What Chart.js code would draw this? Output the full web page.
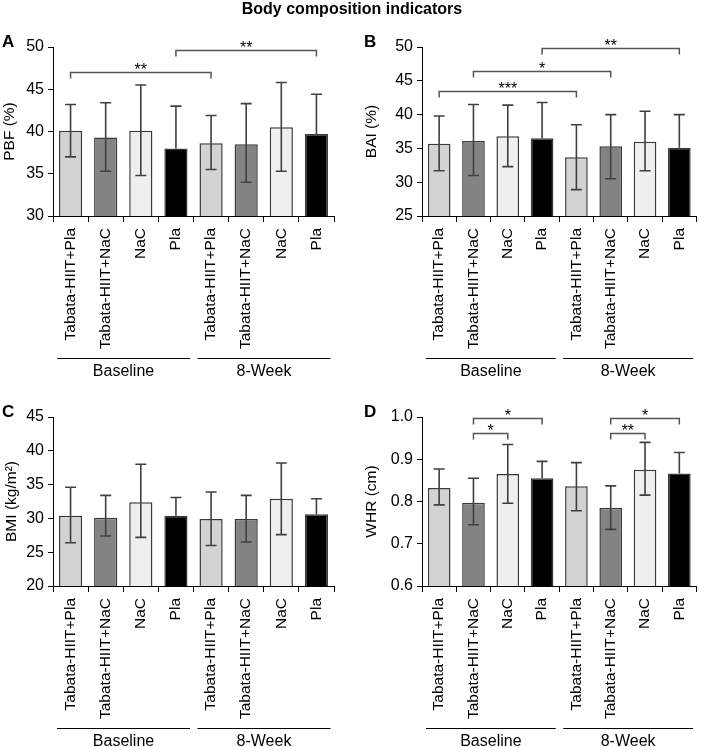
<!DOCTYPE html>
<html>
<head>
<meta charset="utf-8">
<script src="https://cdn.jsdelivr.net/npm/chart.js@4.4.1/dist/chart.umd.min.js"></script>
<style>
  html, body { margin:0; padding:0; background:#fff; }
  #wrap { position:relative; width:704px; height:747px; overflow:hidden; }
  canvas { position:absolute; }
  #title { position:absolute; left:0; top:0; width:704px; text-align:center;
           font:bold 16px "Liberation Sans", Arial, sans-serif; line-height:17px; color:#000; }
</style>
</head>
<body>
<div id="wrap">
  <canvas id="cA" width="352" height="377" style="left:0;top:0"></canvas>
  <canvas id="cB" width="352" height="377" style="left:352px;top:0"></canvas>
  <canvas id="cC" width="352" height="377" style="left:0;top:370px"></canvas>
  <canvas id="cD" width="352" height="377" style="left:352px;top:370px"></canvas>
  <div id="title">Body composition indicators</div>
</div>
<script>
// ---- data ----
const categories = ['Tabata-HIIT+Pla','Tabata-HIIT+NaC','NaC','Pla','Tabata-HIIT+Pla','Tabata-HIIT+NaC','NaC','Pla'];
const groupNames = ['Baseline','8-Week'];
const groupFirst = [0, 4];
const groupLast  = [3, 7];

const pbfMean  = [40.1, 39.3, 40.1, 38.0, 38.6, 38.5, 40.5, 39.7];
const pbfUpper = [43.2, 43.4, 45.5, 43.0, 41.9, 43.3, 45.8, 44.4];
const pbfLower = [37.0, 35.3, 34.8, null, 35.5, 34.0, 35.3, null];
const pbfSigFrom  = [0, 3];
const pbfSigTo    = [4, 7];
const pbfSigLevel = [47.0, 49.6];
const pbfSigText  = ['**', '**'];

const baiMean  = [35.7, 36.1, 36.8, 36.5, 33.7, 35.3, 36.0, 35.1];
const baiUpper = [39.8, 41.5, 41.4, 41.8, 38.5, 40.0, 40.5, 40.0];
const baiLower = [31.7, 31.0, 32.3, null, 28.9, 30.5, 31.7, null];
const baiSigFrom  = [0, 1, 3];
const baiSigTo    = [4, 5, 7];
const baiSigLevel = [43.5, 46.4, 49.85];
const baiSigText  = ['***', '*', '**'];

const bmiMean  = [30.4, 30.1, 32.4, 30.4, 29.9, 29.9, 32.9, 30.6];
const bmiUpper = [34.6, 33.4, 38.0, 33.1, 33.9, 33.4, 38.2, 32.9];
const bmiLower = [26.4, 27.4, 27.2, null, 26.0, 26.5, 27.6, null];

const whrMean  = [0.832, 0.797, 0.865, 0.855, 0.836, 0.785, 0.875, 0.866];
const whrUpper = [0.877, 0.855, 0.935, 0.895, 0.892, 0.837, 0.940, 0.916];
const whrLower = [0.792, 0.745, 0.796, null, 0.778, 0.734, 0.815, null];
const whrSigFrom  = [1, 1, 5, 5];
const whrSigTo    = [3, 2, 7, 6];
const whrSigLevel = [0.997, 0.963, 0.997, 0.963];
const whrSigText  = ['*', '*', '*', '**'];

// ---- styles ----
const barColors = ['#d3d3d3','#838383','#efefef','#000000','#d3d3d3','#838383','#efefef','#000000'];
const FONT = '"Liberation Sans", Arial, sans-serif';

function makePlugin(p) {
  return {
    id: 'annot_' + p.letter,
    afterDatasetsDraw(chart) {
      const ctx = chart.ctx, xs = chart.scales.x, ys = chart.scales.y;
      ctx.save();
      // error bars
      ctx.strokeStyle = '#404040';
      ctx.lineWidth = 1.6;
      p.mean.forEach((m, i) => {
        const px = xs.getPixelForValue(i);
        const yu = ys.getPixelForValue(p.upper[i]);
        const hasLow = p.lower[i] != null;
        const yl = ys.getPixelForValue(hasLow ? p.lower[i] : m);
        ctx.beginPath();
        ctx.moveTo(px, yu); ctx.lineTo(px, yl);
        ctx.moveTo(px - 5.5, yu); ctx.lineTo(px + 5.5, yu);
        if (hasLow) { ctx.moveTo(px - 5.5, yl); ctx.lineTo(px + 5.5, yl); }
        ctx.stroke();
      });
      // significance brackets
      ctx.strokeStyle = '#555';
      ctx.lineWidth = 1.5;
      ctx.fillStyle = '#000';
      ctx.font = '16px ' + FONT;
      ctx.textAlign = 'center';
      ctx.textBaseline = 'alphabetic';
      (p.sigFrom || []).forEach((f, k) => {
        const x1 = xs.getPixelForValue(f), x2 = xs.getPixelForValue(p.sigTo[k]);
        const yy = Math.round(ys.getPixelForValue(p.sigLevel[k])) + 0.5;
        ctx.beginPath();
        ctx.moveTo(x1, yy + 6); ctx.lineTo(x1, yy); ctx.lineTo(x2, yy); ctx.lineTo(x2, yy + 6);
        ctx.stroke();
        ctx.fillText(p.sigText[k], (x1 + x2) / 2, yy + 2.5);
      });
      ctx.restore();
    },
    afterDraw(chart) {
      const ctx = chart.ctx, xs = chart.scales.x, ca = chart.chartArea;
      const half = (xs.getPixelForValue(1) - xs.getPixelForValue(0)) / 2;
      ctx.save();
      // group lines and labels
      ctx.strokeStyle = '#000';
      ctx.lineWidth = 1.2;
      ctx.fillStyle = '#000';
      ctx.font = '16px ' + FONT;
      ctx.textAlign = 'center';
      ctx.textBaseline = 'middle';
      groupNames.forEach((g, k) => {
        const a = xs.getPixelForValue(groupFirst[k]) - half + 4;
        const b = xs.getPixelForValue(groupLast[k]) + half - 3.5;
        const ly = ca.bottom + 142.5;
        ctx.beginPath(); ctx.moveTo(a, ly); ctx.lineTo(b, ly); ctx.stroke();
        ctx.fillText(g, (a + b) / 2, ca.bottom + 156);
      });
      // panel letter
      ctx.font = 'bold 17px ' + FONT;
      ctx.textAlign = 'left';
      ctx.textBaseline = 'alphabetic';
      ctx.fillText(p.letter, p.letterX, 47);
      // y axis title
      ctx.font = '15.5px ' + FONT;
      ctx.translate(p.titleX, (ca.top + ca.bottom) / 2);
      ctx.rotate(-Math.PI / 2);
      ctx.textAlign = 'center';
      ctx.textBaseline = 'middle';
      ctx.fillText(p.yTitle, 0, 0);
      ctx.restore();
    }
  };
}

function makeChart(id, p) {
  new Chart(document.getElementById(id), {
    type: 'bar',
    data: {
      labels: categories,
      datasets: [{
        data: p.mean,
        backgroundColor: barColors,
        borderColor: '#3a3a3a',
        borderWidth: 1.5,
        barPercentage: 0.66,
        categoryPercentage: 1
      }]
    },
    options: {
      responsive: false,
      animation: false,
      devicePixelRatio: 1,
      layout: { padding: { left: 0, top: 47, right: p.padRight, bottom: 0 } },
      plugins: { legend: { display: false }, tooltip: { enabled: false } },
      scales: {
        x: {
          grid: { offset: true, drawOnChartArea: false, drawTicks: true, tickLength: 6, color: '#000', lineWidth: 1 },
          border: { display: true, color: '#000', width: 1 },
          ticks: { autoSkip: false, minRotation: 90, maxRotation: 90, padding: 6, color: '#000',
                   font: { family: FONT, size: 15.5 } },
          afterFit(s) { s.height = 161; }
        },
        y: {
          min: p.min, max: p.max,
          grid: { drawOnChartArea: false, drawTicks: true, tickLength: 5, color: '#000', lineWidth: 1 },
          border: { display: true, color: '#000', width: 1 },
          ticks: { stepSize: p.step, padding: 4, color: '#000', font: { family: FONT, size: 16 },
                   callback: v => p.fmt(v) },
          afterFit(s) { s.width = p.axisW; }
        }
      }
    },
    plugins: [makePlugin(p)]
  });
}

makeChart('cA', { letter: 'A', letterX: 2, titleX: 10, yTitle: 'PBF (%)', axisW: 53, padRight: 18,
  min: 30, max: 50, step: 5, fmt: v => String(v),
  mean: pbfMean, upper: pbfUpper, lower: pbfLower,
  sigFrom: pbfSigFrom, sigTo: pbfSigTo, sigLevel: pbfSigLevel, sigText: pbfSigText });

makeChart('cB', { letter: 'B', letterX: 12, titleX: 20, yTitle: 'BAI (%)', axisW: 70, padRight: 1,
  min: 25, max: 50, step: 5, fmt: v => String(v),
  mean: baiMean, upper: baiUpper, lower: baiLower,
  sigFrom: baiSigFrom, sigTo: baiSigTo, sigLevel: baiSigLevel, sigText: baiSigText });

makeChart('cC', { letter: 'C', letterX: 2, titleX: 11.5, yTitle: 'BMI (kg/m\u00B2)', axisW: 53, padRight: 18,
  min: 20, max: 45, step: 5, fmt: v => String(v),
  mean: bmiMean, upper: bmiUpper, lower: bmiLower });

makeChart('cD', { letter: 'D', letterX: 12, titleX: 20, yTitle: 'WHR (cm)', axisW: 70, padRight: 1,
  min: 0.6, max: 1.0, step: 0.1, fmt: v => v.toFixed(1),
  mean: whrMean, upper: whrUpper, lower: whrLower,
  sigFrom: whrSigFrom, sigTo: whrSigTo, sigLevel: whrSigLevel, sigText: whrSigText });
</script>
</body>
</html>
